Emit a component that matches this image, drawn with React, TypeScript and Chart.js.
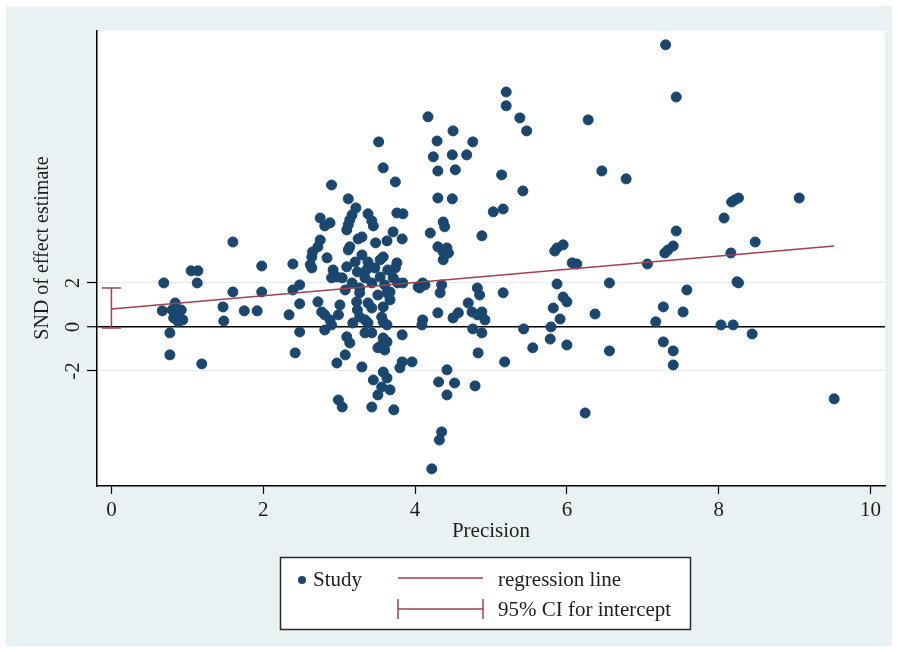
import { useEffect, useRef } from "react";
import { Chart, registerables } from "chart.js";

Chart.register(...registerables);

// ---- data ----
const precision = [
  0.67, 0.69, 0.77, 0.77, 0.84, 0.80, 0.85, 0.90, 0.88, 0.94, 0.82, 0.92,
  1.05, 1.14, 1.13, 1.19, 1.47, 1.48, 1.60, 1.60, 1.75, 1.92, 1.98, 1.98,
  2.39, 2.39, 2.48, 2.48, 2.34, 2.48, 2.42,
  2.90, 3.12, 3.22, 3.17, 3.14, 3.12, 3.10, 2.75, 2.88, 2.81, 3.38, 3.43, 3.45,
  3.58, 3.74, 3.76, 3.84, 3.71, 3.83, 3.25, 3.30, 2.75, 2.72, 2.65, 2.64, 2.62,
  2.64, 2.84, 3.14, 3.12, 3.48, 3.63, 4.20, 4.24, 4.30, 4.30, 4.37, 4.39, 4.30,
  4.37, 4.37, 2.92, 2.97, 2.90, 4.10, 4.04, 3.76, 3.10, 3.58,
  3.21, 3.30, 3.38, 3.47, 3.54, 3.64, 3.71, 3.77, 3.24, 3.34, 3.43, 3.54, 3.17,
  3.08, 3.27, 3.60, 3.67, 3.51, 3.36, 3.04, 3.74,
  2.72, 2.77, 2.81, 2.88, 2.81, 2.90, 3.01, 2.99, 3.18, 3.10, 3.14, 3.08, 2.97,
  3.30, 3.27, 3.23, 3.24, 3.27, 3.34, 3.38, 3.34, 3.43, 3.38, 3.43, 3.63, 3.67,
  3.58, 3.56, 3.58, 3.63, 3.58, 3.63, 3.56, 3.51, 3.60, 3.83, 3.83, 3.80, 3.96,
  3.58, 3.63, 3.45, 3.56, 3.67, 3.51, 2.99, 3.04, 3.43, 3.72, 4.10, 4.09, 4.30,
  4.33, 4.42, 4.31, 4.42,
  5.20, 5.20, 5.38, 5.47, 4.17, 4.50, 4.29, 4.76, 4.49, 4.68, 4.53, 5.14, 5.42,
  4.49, 5.03, 5.16, 4.88, 4.42, 4.44, 5.87, 5.95, 5.84, 6.07, 6.13, 3.84, 4.06,
  4.13, 4.35, 4.82, 4.85, 5.16, 4.70, 4.75, 4.82, 4.88, 4.92, 4.50, 4.57, 4.76,
  4.88, 4.83, 5.18, 5.43, 5.55, 5.87, 5.95, 6.00, 5.82, 5.91, 5.79, 5.78, 6.00,
  4.52, 4.79, 4.35, 4.32, 4.22,
  7.30, 7.44, 6.28, 6.46, 6.78, 8.21, 8.26, 8.17, 9.06, 8.07, 7.44, 7.33, 7.40,
  7.29, 8.48, 8.16, 7.06, 6.56, 6.37, 6.56, 6.24, 7.17, 7.27, 7.27, 7.40, 7.40,
  7.58, 7.53, 8.03, 8.19, 8.44, 8.24, 8.26, 9.52, 3.52,
];

const snd = [
  0.73, 2.00, -1.27, -0.27, 1.09, 0.77, 0.59, 0.41, 0.23, 0.32, 0.41, 0.77,
  2.55, 2.55, 2.00, -1.68, 0.91, 0.27, 3.86, 1.59, 0.73, 0.73, 2.77, 1.59,
  2.86, 1.68, 1.91, 1.05, 0.55, -0.23, -1.18,
  6.45, 5.82, 5.41, 5.09, 4.86, 4.64, 4.41, 4.95, 4.73, 4.59, 5.14, 4.82, 4.59,
  7.23, 6.59, 5.18, 5.14, 4.32, 4.00, 4.00, 4.09, 3.95, 3.64, 3.41, 3.18, 2.82,
  2.68, 3.14, 3.64, 3.50, 3.82, 3.91, 4.27, 7.73, 7.09, 5.86, 4.77, 4.55, 3.64,
  3.41, 3.05, 2.59, 2.27, 2.23, 2.00, 1.82, 2.91, 2.73, 3.18,
  2.95, 3.27, 2.95, 2.68, 3.05, 2.59, 2.23, 2.00, 2.50, 2.23, 2.00, 2.27, 2.00,
  1.68, 1.77, 1.91, 1.59, 1.45, 2.59, 2.23, 2.68,
  1.14, 0.68, 0.55, 0.32, -0.14, 0.09, 1.00, 0.55, 0.18, -0.45, -0.73, -1.27, -1.64,
  -1.82, 1.55, 1.14, 0.77, 0.45, 0.32, 0.18, -0.27, -0.27, 1.09, 0.86, 1.55, 1.23,
  0.91, 0.45, 0.23, 0.09, -0.50, -0.68, -0.82, -0.95, -1.05, -0.36, -1.59, -1.86, -1.59,
  -2.05, -2.32, -2.41, -2.73, -2.86, -3.09, -3.32, -3.64, -3.64, -3.77, 0.32, 0.09, 0.64,
  1.55, -1.95, -2.50, -3.09,
  10.68, 10.05, 9.50, 8.91, 9.55, 8.91, 8.45, 8.41, 7.82, 7.82, 7.14, 6.91, 6.18,
  5.82, 5.23, 5.36, 4.14, 3.59, 3.36, 3.59, 3.73, 3.45, 2.91, 2.86, 2.00, 1.77,
  1.91, 1.91, 1.77, 1.45, 1.55, 1.09, 0.68, 0.55, 0.68, 0.32, 0.41, 0.64, -0.09,
  -0.27, -1.18, -1.59, -0.09, -0.95, 1.95, 1.36, 1.14, 0.86, 0.36, 0.00, -0.55, -0.82,
  -2.55, -2.68, -4.77, -5.14, -6.45,
  12.82, 10.45, 9.41, 7.09, 6.73, 5.77, 5.86, 5.68, 5.86, 4.95, 4.36, 3.50, 3.68,
  3.36, 3.86, 3.36, 2.86, 2.00, 0.59, -1.09, -3.91, 0.23, 0.91, -0.68, -1.09, -1.73,
  1.68, 0.68, 0.09, 0.09, -0.32, 2.05, 2.00, -3.27, 8.41,
];

const regressionX = [0, 9.52];
const regressionY = [0.82, 3.68];
const ciX = 0;
const ciBounds = [-0.05, 1.77];

const xTicks = [0, 2, 4, 6, 8, 10];
const yTicks = [-2, 0, 2];
const xRange = [-0.19, 10.19];
const yRange = [-7.23, 13.45];

const xTitle = "Precision";
const yTitle = "SND of effect estimate";
const legendLabels = ["Study", "regression line", "95% CI for intercept"];

// ---- styles ----
const NAVY = "#1a476f";
const MAROON = "#a0424b";
const TEXT = "#1e1e1e";
const FONT = '"Liberation Serif", "Times New Roman", serif';

const framePlugin = {
  id: "stataFrame",
  beforeDraw(chart: any) {
    const { ctx, width, height, chartArea: a } = chart;
    ctx.save();
    ctx.fillStyle = "#ffffff";
    ctx.fillRect(0, 0, width, height);
    ctx.fillStyle = "#eaf1f3";
    ctx.fillRect(6, 6, width - 12, height - 12);
    ctx.fillStyle = "#ffffff";
    ctx.fillRect(a.left, a.top, a.right - a.left, a.bottom - a.top);
    ctx.restore();
  },
  afterDraw(chart: any) {
    const { ctx, chartArea: a } = chart;
    const ys = chart.scales.y;
    ctx.save();
    ctx.fillStyle = TEXT;
    ctx.font = `21px ${FONT}`;
    ctx.textAlign = "center";
    ctx.textBaseline = "middle";
    // y tick labels, rotated
    for (const v of yTicks) {
      const py = ys.getPixelForValue(v);
      ctx.save();
      ctx.translate(73, py);
      ctx.rotate(-Math.PI / 2);
      ctx.fillText(String(v), 0, 0);
      ctx.restore();
    }
    // y title
    ctx.font = `20px ${FONT}`;
    ctx.save();
    ctx.translate(43, 248);
    ctx.rotate(-Math.PI / 2);
    ctx.fillText(yTitle, 0, 0);
    ctx.restore();
    // x title
    ctx.font = `21px ${FONT}`;
    ctx.fillText(xTitle, (a.left + a.right) / 2, 531);

    // legend box
    ctx.fillStyle = "#ffffff";
    ctx.fillRect(280, 557, 410, 72);
    ctx.strokeStyle = "#2a2a2a";
    ctx.lineWidth = 1.5;
    ctx.strokeRect(280.5, 557.5, 410, 72);

    ctx.textAlign = "left";
    ctx.fillStyle = NAVY;
    ctx.beginPath();
    ctx.arc(302, 580, 4, 0, Math.PI * 2);
    ctx.fill();
    ctx.fillStyle = TEXT;
    ctx.font = `21px ${FONT}`;
    ctx.fillText(legendLabels[0], 313, 580);

    ctx.strokeStyle = MAROON;
    ctx.lineWidth = 1.5;
    ctx.beginPath();
    ctx.moveTo(398, 578);
    ctx.lineTo(483, 578);
    ctx.stroke();
    ctx.fillText(legendLabels[1], 498, 580);

    ctx.beginPath();
    ctx.moveTo(398, 609);
    ctx.lineTo(483, 609);
    ctx.moveTo(398, 599);
    ctx.lineTo(398, 619);
    ctx.moveTo(483, 599);
    ctx.lineTo(483, 619);
    ctx.stroke();
    ctx.fillText(legendLabels[2], 498, 610);
    ctx.restore();
  },
};

export default function App() {
  const ref = useRef<HTMLCanvasElement | null>(null);

  useEffect(() => {
    document.body.style.margin = "0";
    const canvas = ref.current;
    if (!canvas) return;
    const chart = new Chart(canvas, {
      type: "scatter",
      data: {
        datasets: [
          {
            type: "line",
            label: legendLabels[1],
            data: regressionX.map((x, i) => ({ x, y: regressionY[i] })),
            borderColor: MAROON,
            borderWidth: 1.5,
            pointRadius: 0,
            fill: false,
          } as any,
          {
            type: "line",
            label: legendLabels[2],
            data: ciBounds.map((y) => ({ x: ciX, y })),
            borderColor: MAROON,
            borderWidth: 1.5,
            pointStyle: "line",
            pointRadius: 9.5,
            pointBorderColor: MAROON,
            pointBorderWidth: 1.5,
            fill: false,
          } as any,
          {
            label: legendLabels[0],
            data: precision.map((x, i) => ({ x, y: snd[i] })),
            backgroundColor: NAVY,
            borderColor: NAVY,
            borderWidth: 1,
            pointRadius: 5,
            pointHoverRadius: 5,
          },
        ],
      },
      options: {
        responsive: false,
        animation: false,
        events: [],
        layout: { padding: { top: 31, right: 13, bottom: 0, left: 0 } },
        plugins: { legend: { display: false }, tooltip: { enabled: false } },
        scales: {
          x: {
            type: "linear",
            min: xRange[0],
            max: xRange[1],
            afterBuildTicks: (s: any) => {
              s.ticks = xTicks.map((v) => ({ value: v }));
            },
            afterFit: (s: any) => {
              s.height = 166;
            },
            grid: {
              drawOnChartArea: false,
              drawTicks: true,
              tickLength: 8,
              tickColor: "#000",
              tickWidth: 1.2,
            },
            border: { display: true, color: "#000", width: 1.5 },
            ticks: {
              padding: 4,
              color: TEXT,
              maxRotation: 0,
              font: { family: FONT, size: 21 },
            },
          },
          y: {
            type: "linear",
            min: yRange[0],
            max: yRange[1],
            afterBuildTicks: (s: any) => {
              s.ticks = yTicks.map((v) => ({ value: v }));
            },
            afterFit: (s: any) => {
              s.width = 97;
            },
            grid: {
              color: (c: any) => (c.tick && c.tick.value === 0 ? "#000" : "#e3ecef"),
              lineWidth: (c: any) => (c.tick && c.tick.value === 0 ? 1.5 : 1),
              drawTicks: true,
              tickLength: 10,
              tickColor: "#000",
              tickWidth: 1.2,
            },
            border: { display: true, color: "#000", width: 1.5 },
            ticks: { color: "rgba(0,0,0,0)", font: { family: FONT, size: 20 } },
          },
        },
      },
      plugins: [framePlugin],
    });
    return () => chart.destroy();
  }, []);

  return (
    <div style={{ width: 898, height: 652 }}>
      <canvas ref={ref} width={898} height={652} style={{ display: "block" }} />
    </div>
  );
}
